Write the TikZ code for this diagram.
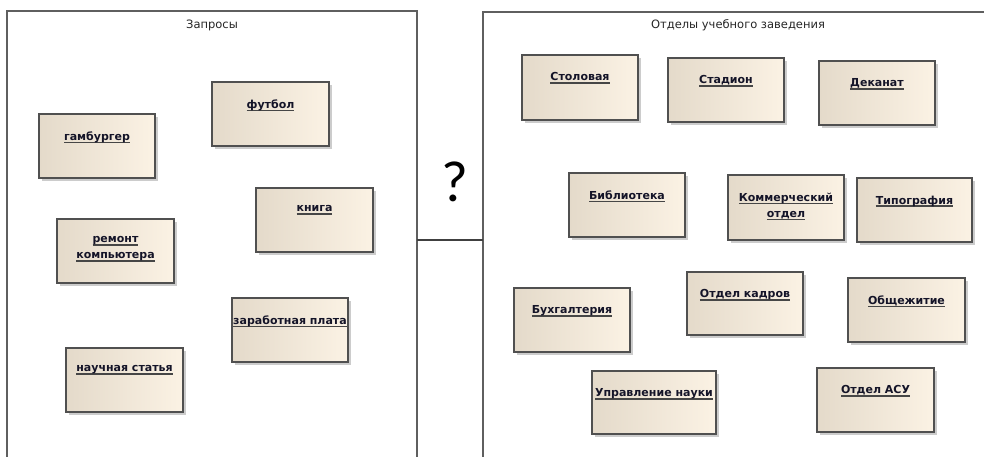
\documentclass[tikz,border=0pt]{standalone}
\usepackage{fontspec}
\setmainfont{DejaVu Sans}
\newfontfamily\qfont{Carlito}
\usetikzlibrary{shadows}
\definecolor{boxL}{RGB}{228,218,202}
\definecolor{boxR}{RGB}{251,242,228}
\definecolor{boxD}{RGB}{80,80,80}
\definecolor{frameC}{RGB}{95,95,95}
\definecolor{ulc}{RGB}{70,70,70}
\definecolor{txtC}{RGB}{20,20,40}
\newcommand\ulx[1]{\setbox0\hbox{#1}\leavevmode\rlap{\color{ulc}\rule[-2.8pt]{\wd0}{1.4pt}}\box0}
\tikzset{
  clsbox/.style={draw=boxD, line width=1.3pt, inner sep=0pt, outer sep=0pt,
    left color=boxL, right color=boxR,
    drop shadow={shadow xshift=3pt, shadow yshift=-3pt, opacity=0.4, fill=gray}},
  clslbl/.style={anchor=north, inner sep=0pt, align=center, font=\bfseries\fontsize{11}{16}\selectfont, text=txtC},
  frametitle/.style={font=\fontsize{11.5}{13}\selectfont, text=black!85},
  framebox/.style={draw=frameC, line width=1.2pt},
}
\newcommand\bx[6]{%
  \node[clsbox, minimum width={(#4-#2)*1pt}, minimum height={(#5-#3)*1pt}] (#1) at ({(#2+#4)/2},{(#3+#5)/2}) {};
  \node[clslbl] (#1-t) at ([yshift=-17.5pt]#1.north) {#6};
}
\begin{document}
\begin{tikzpicture}[x=1pt,y=-1pt]
\useasboundingbox (0,0) rectangle (984,456);
\clip (0,0) rectangle (984,456);
\fill[white] (0,0) rectangle (984,456);
% frames
\draw[framebox] (7,11) rectangle (417,470);
\draw[framebox] (483,12) rectangle (1000,470);
\node[frametitle] (t1) at (212,25) {Запросы};
\node[frametitle] (t2) at (738,25) {Отделы учебного заведения};
% connector
\coordinate (la) at (417,240);
\coordinate (ra) at (483,240);
\draw[line width=2pt, draw=black!75] (la) -- (ra);
\node[font=\qfont\fontsize{58}{60}\selectfont] (q) at (455,182) {?};
% left boxes
\bx{gamb}{39}{114}{155}{178}{\ulx{гамбургер}}
\bx{futb}{212}{82}{329}{146}{\ulx{футбол}}
\bx{kniga}{256}{188}{373}{252}{\ulx{книга}}
\bx{remont}{57}{219}{174}{283}{\ulx{ремонт}\\\ulx{компьютера}}
\bx{zarab}{232}{298}{348}{362}{\ulx{заработная плата}}
\bx{nauch}{66}{348}{183}{412}{\ulx{научная статья}}
% right boxes
\bx{stol}{522}{55}{638}{120}{\ulx{Столовая}}
\bx{stad}{668}{58}{784}{122}{\ulx{Стадион}}
\bx{dekan}{819}{61}{935}{125}{\ulx{Деканат}}
\bx{bibl}{569}{173}{685}{237}{\ulx{Библиотека}}
\bx{komm}{728}{175}{844}{240}{\ulx{Коммерческий}\\\ulx{отдел}}
\bx{tipo}{857}{178}{972}{242}{\ulx{Типография}}
\bx{buh}{514}{288}{630}{352}{\ulx{Бухгалтерия}}
\bx{kadr}{687}{272}{803}{335}{\ulx{Отдел кадров}}
\bx{obsh}{848}{278}{965}{342}{\ulx{Общежитие}}
\bx{uprav}{592}{371}{716}{434}{\ulx{Управление науки}}
\bx{asu}{817}{368}{934}{432}{\ulx{Отдел АСУ}}
\end{tikzpicture}
\end{document}
